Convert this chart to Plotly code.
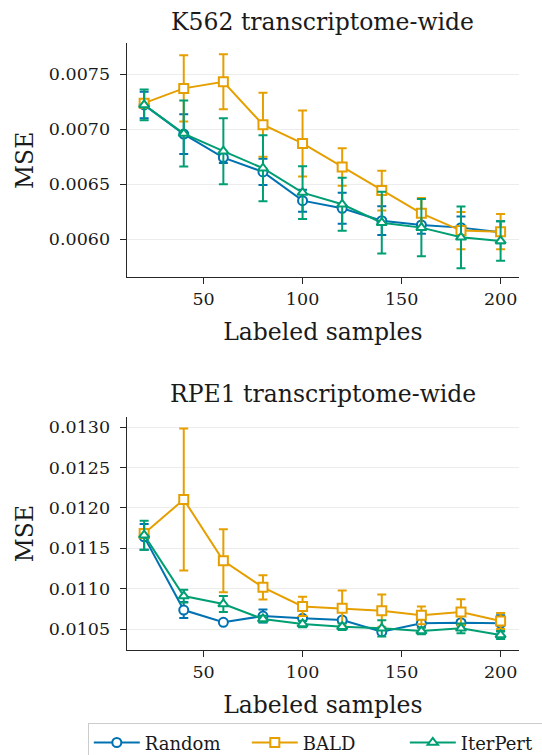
import plotly.graph_objects as go

# ---------------- data ----------------
samples = [20, 40, 60, 80, 100, 120, 140, 160, 180, 200]

k562_random = [0.00722, 0.006955, 0.006742, 0.006612, 0.006351, 0.006282, 0.006169, 0.00613, 0.006106, 0.006065]
k562_random_err = [0.00012, 0.00018, 0.00005, 0.00012, 0.0001, 0.00014, 0.00013, 0.00008, 0.0001, 0.0001]
k562_bald = [0.007236, 0.00737, 0.00743, 0.00704, 0.00687, 0.006657, 0.006442, 0.006236, 0.006079, 0.006069]
k562_bald_err = [0.00003, 0.0003, 0.00025, 0.00029, 0.0003, 0.00017, 0.00018, 0.00014, 0.00017, 0.00016]
k562_iterpert = [0.00722, 0.00696, 0.0068, 0.006645, 0.006424, 0.006318, 0.006151, 0.006106, 0.006018, 0.005985]
k562_iterpert_err = [0.00014, 0.0003, 0.0003, 0.0003, 0.00024, 0.00024, 0.00028, 0.00026, 0.00028, 0.00018]

rpe1_random = [0.011642, 0.010735, 0.010583, 0.010661, 0.010632, 0.010611, 0.010467, 0.01057, 0.010578, 0.01057]
rpe1_random_err = [0.00016, 0.0001, 0.00002, 0.00008, 0.00003, 0.00003, 0.00003, 0.00003, 0.00003, 0.0001]
rpe1_bald = [0.011684, 0.012105, 0.011345, 0.011016, 0.01078, 0.010756, 0.010727, 0.01067, 0.01071, 0.010599]
rpe1_bald_err = [0.00005, 0.00088, 0.00039, 0.00015, 0.00012, 0.00022, 0.0002, 0.00011, 0.00016, 0.0001]
rpe1_iterpert = [0.011663, 0.010908, 0.01081, 0.010624, 0.010562, 0.010529, 0.010508, 0.010475, 0.010508, 0.010426]
rpe1_iterpert_err = [0.00018, 0.00008, 0.0001, 0.00004, 0.00004, 0.00004, 0.0001, 0.00004, 0.00006, 0.00005]

method_names = ["Random", "BALD", "IterPert"]
panel_titles = ["K562 transcriptome-wide", "RPE1 transcriptome-wide"]
x_title = "Labeled samples"
y_title = "MSE"
x_ticks = [50, 100, 150, 200]
k562_yticks = [0.0060, 0.0065, 0.0070, 0.0075]
rpe1_yticks = [0.0105, 0.0110, 0.0115, 0.0120, 0.0125, 0.0130]

# ---------------- styling ----------------
colors = ["#0072B2", "#E69F00", "#009E73"]
symbols = ["circle", "square", "triangle-up"]
FONT = "DejaVu Serif"
TXT = "#1a1a1a"
XDOM = [0.2338, 0.9576]

fig = go.Figure()

panels = [
    ([k562_random, k562_bald, k562_iterpert], [k562_random_err, k562_bald_err, k562_iterpert_err], "x", "y"),
    ([rpe1_random, rpe1_bald, rpe1_iterpert], [rpe1_random_err, rpe1_bald_err, rpe1_iterpert_err], "x2", "y2"),
]

for p, (series, errs, xa, ya) in enumerate(panels):
    for i, name in enumerate(method_names):
        fig.add_trace(go.Scatter(
            x=samples, y=series[i], name=name,
            mode="lines+markers",
            xaxis=xa, yaxis=ya,
            showlegend=(p == 0),
            line=dict(color=colors[i], width=2),
            marker=dict(symbol=symbols[i], size=9, color="white",
                        line=dict(width=2, color=colors[i])),
            error_y=dict(type="data", array=errs[i], visible=True,
                         color=colors[i], thickness=2, width=4.5),
        ))

axis_common = dict(
    showline=True, linecolor="#262626", linewidth=1.3,
    ticks="outside", ticklen=6, tickwidth=1.3, tickcolor="#262626",
    tickfont=dict(family=FONT, size=17.5, color=TXT),
    zeroline=False, mirror=False,
)
title_font = dict(family=FONT, size=23.5, color=TXT)

fig.update_layout(
    width=542, height=755,
    margin=dict(l=0, r=0, t=0, b=0, autoexpand=False),
    paper_bgcolor="white", plot_bgcolor="white",
    font=dict(family=FONT, color=TXT),
    xaxis=dict(domain=XDOM, range=[11.2, 209.3], anchor="y",
               tickvals=x_ticks, showgrid=False,
               title=dict(text=x_title, font=title_font, standoff=15),
               **axis_common),
    yaxis=dict(domain=[0.6327, 0.9426], range=[0.005655, 0.007779], anchor="x",
               tickvals=k562_yticks, tickformat=".4f",
               showgrid=True, gridcolor="#ececec", gridwidth=1.3,
               ticklabelstandoff=6,
               title=dict(text=y_title, font=title_font, standoff=8),
               **axis_common),
    xaxis2=dict(domain=XDOM, range=[11.2, 209.3], anchor="y2",
                tickvals=x_ticks, showgrid=False,
                title=dict(text=x_title, font=title_font, standoff=15),
                **axis_common),
    yaxis2=dict(domain=[0.1391, 0.4475], range=[0.01024, 0.013126], anchor="x2",
                tickvals=rpe1_yticks, tickformat=".4f",
                showgrid=True, gridcolor="#ececec", gridwidth=1.3,
                ticklabelstandoff=6,
                title=dict(text=y_title, font=title_font, standoff=8),
                **axis_common),
    legend=dict(orientation="h", x=0.162, xanchor="left", y=0.0420, yanchor="top",
                font=dict(family=FONT, size=18, color=TXT),
                bordercolor="#cccccc", borderwidth=1, bgcolor="white",
                itemwidth=46, entrywidth=97, entrywidthmode="pixels"),
    annotations=[
        dict(text=panel_titles[0], xref="paper", yref="paper",
             x=(XDOM[0] + XDOM[1]) / 2, y=1 - 22 / 755, xanchor="center", yanchor="middle",
             showarrow=False, font=title_font),
        dict(text=panel_titles[1], xref="paper", yref="paper",
             x=(XDOM[0] + XDOM[1]) / 2, y=1 - 394 / 755, xanchor="center", yanchor="middle",
             showarrow=False, font=title_font),
    ],
)

fig.write_html("out.html", config={"displayModeBar": False},
               post_script="document.body.style.margin='0';")
